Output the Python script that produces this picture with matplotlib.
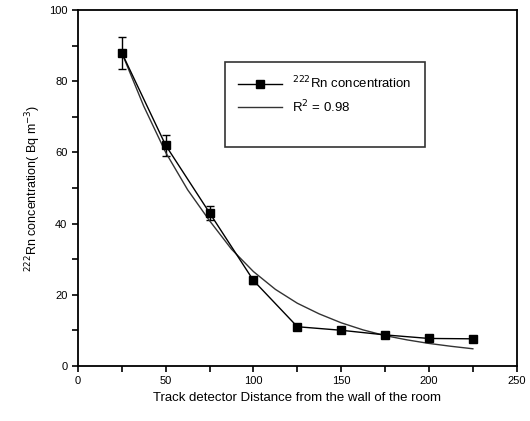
import matplotlib.pyplot as plt
from matplotlib.lines import Line2D
from matplotlib.ticker import MultipleLocator

plt.rcParams['font.family'] = ['Liberation Sans', 'DejaVu Sans']

# measured radon concentration
distance = [25, 50, 75, 100, 125, 150, 175, 200, 225]
concentration = [88, 62, 43, 24, 11, 10, 8.7, 7.7, 7.6]
errors = [4.5, 3.0, 2.0, 1.0, 0.5, 0.5, 0.4, 0.4, 0.4]

# fitted curve
fit_x = [25, 37.5, 50, 62.5, 75, 87.5, 100, 112.5, 125, 137.5, 150,
         162.5, 175, 187.5, 200, 212.5, 225]
fit_y = [88, 73, 60, 49.5, 40.8, 32.8, 26.5, 21.5, 17.6, 14.6, 12.1,
         10.1, 8.5, 7.3, 6.3, 5.5, 4.8]

fig = plt.figure(figsize=(5.3, 4.21), dpi=100)
ax = fig.add_axes([0.147, 0.131, 0.828, 0.845])

eb = ax.errorbar(distance, concentration, yerr=errors, color='black', lw=1.0,
                 marker='s', markersize=6, capsize=3, elinewidth=1.0)
fit_line, = ax.plot(fit_x, fit_y, color='#333333', lw=1.0)

ax.set_xlim(0, 250)
ax.set_ylim(0, 100)
ax.xaxis.set_major_locator(MultipleLocator(50))
ax.xaxis.set_minor_locator(MultipleLocator(25))
ax.yaxis.set_major_locator(MultipleLocator(20))
ax.yaxis.set_minor_locator(MultipleLocator(10))
ax.tick_params(which='both', direction='out', width=1.2, labelsize=8)
ax.tick_params(which='major', length=4)
ax.tick_params(which='minor', length=4)
for s in ax.spines.values():
    s.set_linewidth(1.3)

ax.set_xlabel('Track detector Distance from the wall of the room', fontsize=9.5)
ax.set_ylabel('$^{222}$Rn concentration( Bq m$^{-3}$)', fontsize=9)

blank = Line2D([], [], color='none')
leg = ax.legend([eb.lines[0], fit_line, blank],
                ['$^{222}$Rn concentration', 'R$^2$ = 0.98', ' '],
                loc='upper left', bbox_to_anchor=(0.32, 0.873), fontsize=9.5,
                frameon=True, fancybox=False, edgecolor='black',
                borderpad=1.0, labelspacing=0.5, handlelength=3.3)
leg.get_frame().set_linewidth(1.2)

fig.savefig('out.png', dpi=100)
